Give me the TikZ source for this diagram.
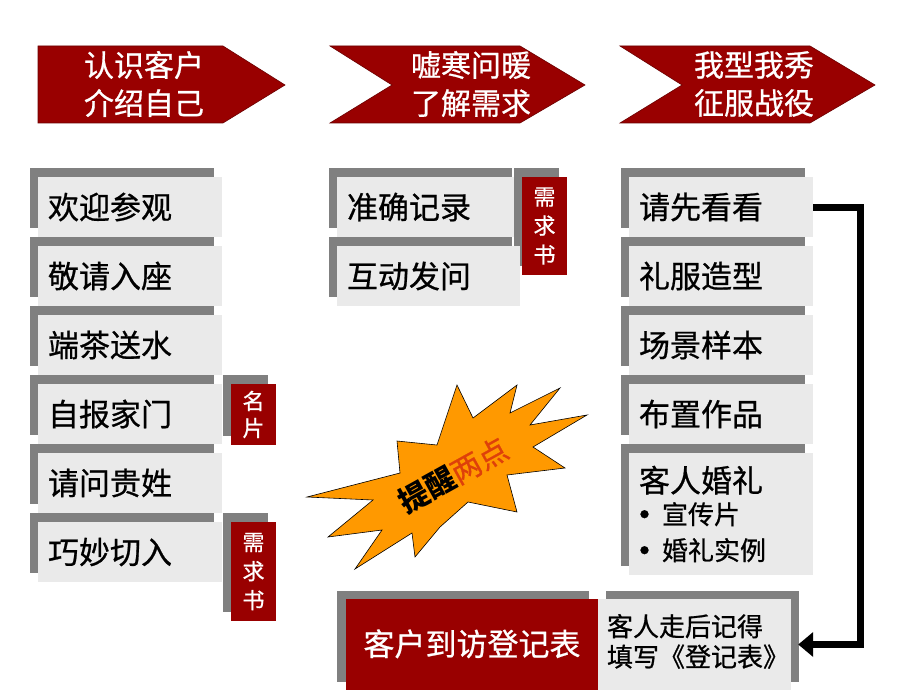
\documentclass[tikz,border=0pt]{standalone}
\usepackage{fontspec}
\setmainfont{Noto Sans CJK SC}
\newfontfamily\heavy{Noto Sans CJK SC}[FakeBold=0.7]
\usetikzlibrary{shadows,arrows.meta}
\definecolor{dred}{RGB}{153,0,0}
\definecolor{sgray}{RGB}{128,128,128}
\definecolor{lgray}{RGB}{234,234,234}
\definecolor{burst}{RGB}{255,153,0}
\definecolor{hot}{RGB}{222,64,10}
\newcommand{\bul}{\makebox[23pt][l]{\hspace{1pt}\raisebox{6.5pt}{\fontsize{9}{9}\selectfont ●}}}
\tikzset{
  box/.style={fill=lgray, minimum width=184pt, minimum height=60pt, text width=164pt,
    inner xsep=10pt, inner ysep=0pt, align=left, font=\heavy\fontsize{31}{36}\selectfont,
    general shadow={fill=sgray, shadow xshift=-8pt, shadow yshift=9pt}},
  tagbox/.style={fill=dred, text=white, minimum width=45pt, inner sep=0pt, align=center,
    font=\heavy\fontsize{22}{29}\selectfont,
    general shadow={fill=sgray, shadow xshift=-8pt, shadow yshift=9pt}},
  hdr/.style={fill=dred, draw=dred!70!black, line width=0.6pt},
  hdrtext/.style={text=white, align=center, font=\heavy\fontsize{30}{38}\selectfont, inner sep=0pt},
  conn/.style={line width=7pt, -{Triangle[length=15pt,width=24pt]}},
}
\begin{document}
\begin{tikzpicture}[x=1pt,y=-1pt]
\useasboundingbox[fill=white] (0,0) rectangle (920,690);

% header arrows
\filldraw[hdr] (38,46) -- (223,46) -- (285,85) -- (223,123) -- (38,123) -- cycle;
\filldraw[hdr] (330,46) -- (520,46) -- (585,85) -- (520,123) -- (330,123) -- (392,85) -- cycle;
\filldraw[hdr] (620,46) -- (810,46) -- (875,85) -- (810,123) -- (620,123) -- (682,85) -- cycle;
\node[hdrtext] (h1) at (144,84) {认识客户\\介绍自己};
\node[hdrtext] (h2) at (471,84) {嘘寒问暖\\了解需求};
\node[hdrtext] (h3) at (754,84) {我型我秀\\征服战役};

% left column
\node[box] (l1) at (130,207) {欢迎参观};
\node[box] (l2) at (130,276) {敬请入座};
\node[box] (l3) at (130,345) {端茶送水};
\node[box] (l4) at (130,414) {自报家门};
\node[box] (l5) at (130,483) {请问贵姓};
\node[box] (l6) at (130,552) {巧妙切入};
\node[tagbox, minimum height=61pt, font=\heavy\fontsize{22}{27}\selectfont] (t1) at (253.5,414.5) {名\\片};
\node[tagbox, minimum height=99pt] (t2) at (253.5,571.5) {需\\求\\书};

% middle column
\node[box, minimum width=183pt, text width=163pt] (m1) at (428.5,207) {准确记录};
\node[tagbox, minimum height=98pt] (t3) at (544.5,226) {需\\求\\书};
\node[box, minimum width=183pt, text width=163pt] (m2) at (428.5,276) {互动发问};

% right column
\node[box] (r1) at (721,207) {请先看看};
\node[box] (r2) at (721,276) {礼服造型};
\node[box] (r3) at (721,345) {场景样本};
\node[box] (r4) at (721,414) {布置作品};
\node[box, minimum height=122pt] (r5) at (721,514) {客人婚礼\par\vspace{4pt}%
  \fontsize{26}{28}\selectfont\bul 宣传片\\
  \bul 婚礼实例};

% bottom
\node[fill=dred, text=white, minimum width=252pt, minimum height=91pt, inner sep=0pt,
  font=\heavy\fontsize{31}{36}\selectfont,
  general shadow={fill=sgray, shadow xshift=-9pt, shadow yshift=8pt}] (rb0) at (472,644.5)
  {\raisebox{4pt}{客户到访登记表}};
\node[fill=lgray, minimum width=193pt, minimum height=91pt, inner sep=0pt,
  font=\heavy\fontsize{26}{28}\selectfont,
  general shadow={fill=sgray, shadow xshift=7.5pt, shadow yshift=8pt}] (rb) at (694.5,644.5)
  {\hspace{7pt}\raisebox{5pt}{\begin{tabular}{@{}l@{}}客人走后记得\\填写《登记表》\end{tabular}}};

% starburst
\filldraw[fill=burst, draw=black, line width=0.6pt]
  (307,497) -- (400,473) -- (397,441) -- (437,445) -- (457,385) -- (473,418) -- (517,385)
  -- (510,413) -- (560,388) -- (530,425) -- (587,415) -- (533,447) -- (565,468) -- (507,475)
  -- (517,512) -- (468,502) -- (440,527) -- (415,557) -- (412,533) -- (355,569) -- (382,530)
  -- (328,537) -- (373,500) -- cycle;
\node[rotate=29, inner sep=0pt, font=\fontsize{30}{36}\selectfont] (st) at (453,475)
  {\textbf{提醒}\textcolor{hot}{\heavy 两点}};

% connector
\draw[conn] (r1.east) -- ++(47,0) |- ([xshift=7pt]rb.east);
\end{tikzpicture}
\end{document}
